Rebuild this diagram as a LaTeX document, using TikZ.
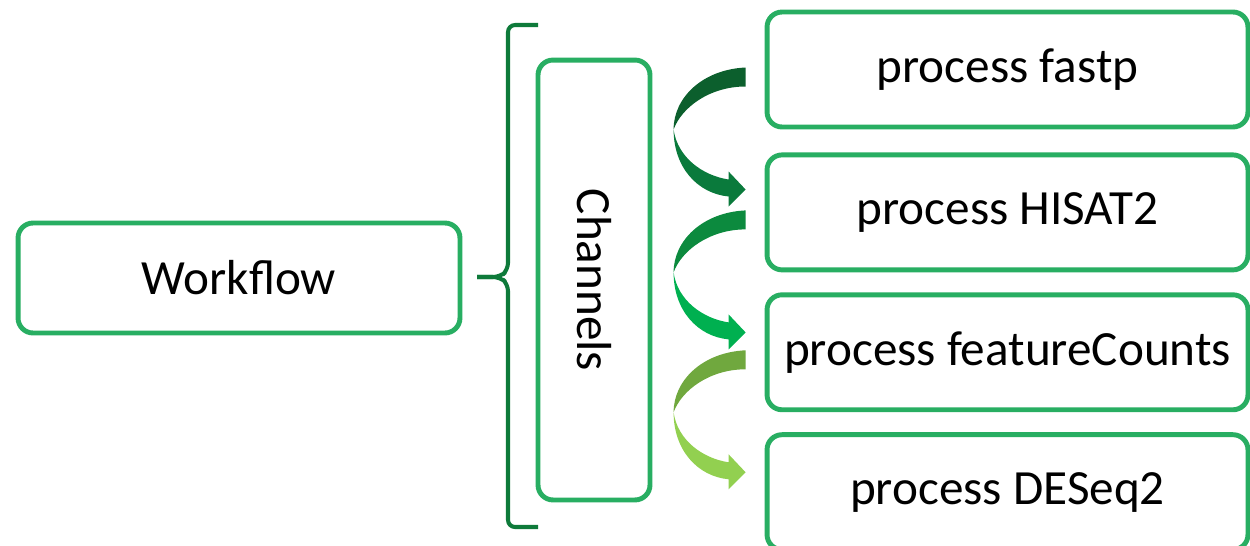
\documentclass[tikz,border=0pt]{standalone}
\usepackage{fontspec}
\setmainfont{Carlito}
\usetikzlibrary{positioning,calc,shadows}
\definecolor{boxgreen}{RGB}{40,174,98}
\definecolor{bracegreen}{RGB}{14,122,58}
\definecolor{arrAtop}{RGB}{12,95,45}
\definecolor{arrAbot}{RGB}{10,122,60}
\definecolor{arrBtop}{RGB}{12,138,62}
\definecolor{arrBbot}{RGB}{0,176,80}
\definecolor{arrCtop}{RGB}{112,168,62}
\definecolor{arrCbot}{RGB}{146,208,80}
\tikzset{
  stagebox/.style={draw=boxgreen,line width=2.8pt,rounded corners=0.3cm,fill=white,
    font=\fontsize{28}{33}\selectfont,
    drop shadow={shadow xshift=0.6pt,shadow yshift=-0.9pt,opacity=0.25}},
  procbox/.style={stagebox,minimum width=9.62cm,minimum height=2.3cm}
}
% curved ribbon arrow from box #1 down to the next box
\newcommand{\ribbon}[3]{%
  \begin{scope}[shift={($(#1.west)+(-19,-2)$)}]
    \fill[#2] (0,0) .. controls (-43,2) and (-72,30) .. (-72,62)
      .. controls (-64,40) and (-36,19) .. (0,19) -- cycle;
    \fill[#3] (-72,62) .. controls (-72,100) and (-48,126) .. (-17,129)
      -- (-17,139) -- (0,122) -- (-17,104) -- (-17,112)
      .. controls (-43,108) and (-68,90) .. (-72,62) -- cycle;
  \end{scope}}

\begin{document}
\begin{tikzpicture}[x=0.02cm,y=-0.02cm]
  \useasboundingbox (0,0) rectangle (1250,545);
  \clip (0,0) rectangle (1250,545);
  \node[stagebox,minimum width=8.84cm,minimum height=2.2cm] (workflow) at (239,278) {Workflow};
  \node[stagebox,rotate=-90,minimum width=8.8cm,minimum height=2.24cm] (channels) at (594,280) {Channels};
  \draw[bracegreen,line width=2.3pt,rounded corners=4] (538,25) -- (508,25) -- (508,270) -- (500,277) -- (477,277);
  \draw[bracegreen,line width=2.3pt,rounded corners=4] (538,527) -- (508,527) -- (508,284) -- (500,277) -- (477,277);
  \node[procbox] (fastp) at (1007.5,69.5) {process fastp};
  \node[procbox,below=0.46cm of fastp] (hisat) {process HISAT2};
  \node[procbox,below=0.4cm of hisat] (counts) {process featureCounts};
  \node[procbox,below=0.4cm of counts] (deseq) {process DESeq2};
  \ribbon{fastp}{arrAtop}{arrAbot}
  \ribbon{hisat}{arrBtop}{arrBbot}
  \ribbon{counts}{arrCtop}{arrCbot}
\end{tikzpicture}
\end{document}
